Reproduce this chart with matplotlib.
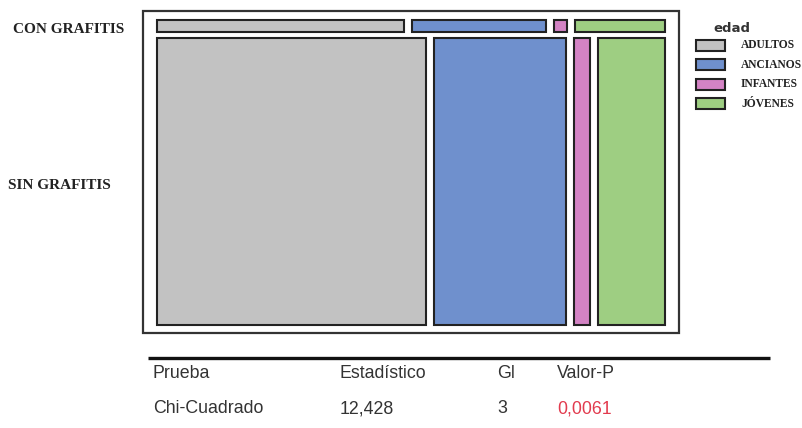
import matplotlib
matplotlib.use("Agg")
import matplotlib.pyplot as plt
from matplotlib.patches import Rectangle

# ---- data ----
rows = ["CON GRAFITIS", "SIN GRAFITIS"]
categories = ["ADULTOS", "ANCIANOS", "INFANTES", "JÓVENES"]
con_grafitis = [306, 166, 16, 112]
sin_grafitis = [7992, 3946, 475, 1987]
legend_title = "edad"
colors = ["#C2C2C2", "#6F90CD", "#D383C4", "#9ECE82"]

table_header = ["Prueba", "Estadístico", "Gl", "Valor-P"]
table_row = ["Chi-Cuadrado", "12,428", "3", "0,0061"]

# ---- figure in pixel coordinates ----
W, H = 803, 428
fig = plt.figure(figsize=(W / 100, H / 100), dpi=100)
ax = fig.add_axes([0, 0, 1, 1])
ax.set_xlim(0, W)
ax.set_ylim(H, 0)
ax.axis("off")

# outer frame
ax.add_patch(Rectangle((143, 11), 536, 322, fill=False, ec="#333333", lw=1.6))

# mosaic layout
x0, x1, y0, y1 = 157, 665, 20, 325
hgap, vgap = 8, 6
data = [con_grafitis, sin_grafitis]
N = sum(sum(r) for r in data)
avail_h = (y1 - y0) - vgap * (len(data) - 1)
avail_w = (x1 - x0) - hgap * (len(categories) - 1)
y = y0
for r in data:
    h = avail_h * sum(r) / N
    x = x0
    for c, col in zip(r, colors):
        w = avail_w * c / sum(r)
        ax.add_patch(Rectangle((x, y), w, h, fc=col, ec="#222222", lw=1.5))
        x += w + hgap
    y += h + vgap

serif = "Liberation Serif"
ax.text(13, 33, rows[0], fontsize=11, fontweight="bold", family=serif,
        color="#222222", va="baseline", ha="left")
ax.text(8, 189, rows[1], fontsize=11, fontweight="bold", family=serif,
        color="#222222", va="baseline", ha="left")

# legend
ax.text(713, 28, legend_title, fontsize=9.5, fontweight="bold",
        family="DejaVu Sans", color="#333333", va="center", ha="left")
for i, (cat, col) in enumerate(zip(categories, colors)):
    yc = 45 + i * 19.5
    ax.add_patch(Rectangle((696, yc - 5.5), 29, 11, fc=col, ec="#222222", lw=1.5))
    ax.text(741, yc + 3, cat, fontsize=8.3, fontweight="bold", family=serif,
            color="#222222", va="baseline", ha="left")

# table
ax.plot([148, 770], [358, 358], color="#111111", lw=2.4, solid_capstyle="butt")
col_x = [153, 340, 497, 557]
for tx, t in zip(col_x, table_header):
    ax.text(tx, 378, t, fontsize=12.8, family="Liberation Sans",
            color="#333333", va="baseline", ha="left")
for i, (tx, t) in enumerate(zip(col_x, table_row)):
    ax.text(tx, 413, t, fontsize=12.8, family="Liberation Sans",
            color="#E23B4E" if i == 3 else "#333333", va="baseline", ha="left")

fig.savefig("out.png", dpi=100)
